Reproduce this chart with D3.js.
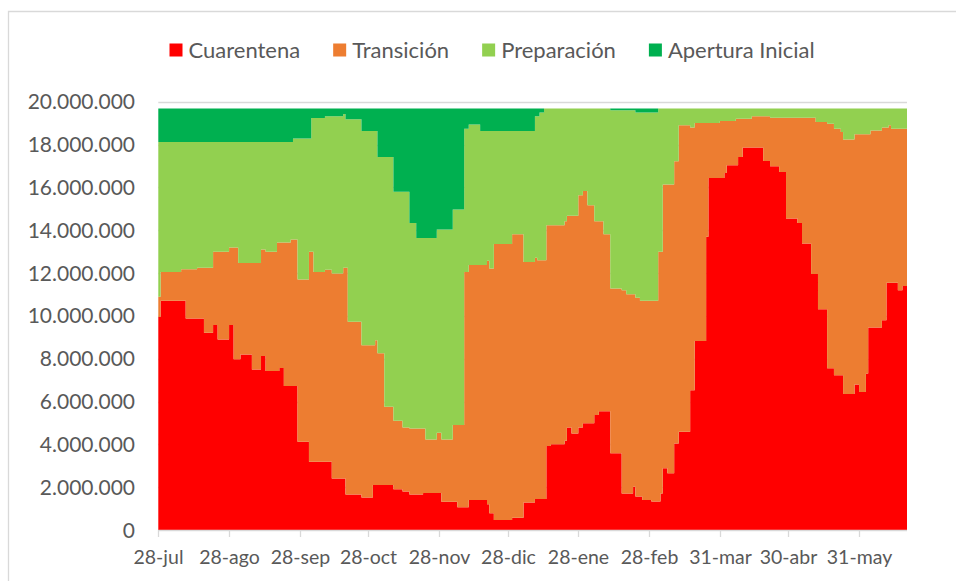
<!DOCTYPE html>
<html lang="es">
<head>
<meta charset="utf-8">
<title>Población por paso</title>
<script src="https://cdn.jsdelivr.net/npm/d3@7"></script>
<style>
    body { margin: 0; background: #fff; }
    svg text { font-family: Lato, "Open Sans", sans-serif; fill: #595959; }
</style>
</head>
<body>
<div id="chart"></div>
<script>
// Datos: población por paso (millones de habitantes)
const fechaInicio = "2020-07-28";

// días transcurridos desde fechaInicio en que cambia algún paso
const dias = [0, 1, 10, 12, 17, 20, 24, 26, 31, 33, 35, 36, 41, 45, 47, 52, 53, 55, 58, 59,
    61, 66, 67, 68, 73, 76, 81, 82, 83, 89, 94, 95, 96, 99, 103, 107, 110, 113, 116, 117,
    122, 124, 129, 131, 134, 136, 141, 144, 145, 147, 155, 160, 165, 166, 167, 169, 170, 172, 178, 179,
    181, 184, 186, 188, 191, 193, 195, 198, 203, 205, 208, 209, 211, 212, 216, 219, 220, 221, 223, 226,
    228, 233, 235, 240, 241, 246, 248, 249, 253, 254, 256, 260, 265, 268, 272, 275, 280, 282, 286, 288,
    289, 293, 296, 299, 300, 305, 307, 310, 311, 312, 317, 319, 320, 321, 324, 326, 328];

const cuarentena = [9.95, 10.7, 10.7, 9.88, 9.88, 9.21, 9.57, 8.9, 9.57, 7.97, 7.97, 8.2, 7.5, 8.13, 7.42, 7.42, 7.57, 6.72, 6.72, 6.72,
    4.12, 3.19, 3.19, 3.19, 3.19, 2.41, 2.41, 1.66, 1.66, 1.52, 2.1, 2.1, 2.1, 2.1, 1.9, 1.8, 1.66, 1.66, 1.73, 1.73,
    1.73, 1.32, 1.32, 1.06, 1.06, 1.4, 1.4, 1.2, 0.78, 0.47, 0.57, 1.29, 1.45, 1.45, 1.45, 1.45, 3.92, 4.01, 4.17, 4.79,
    4.51, 4.79, 4.98, 4.98, 5.37, 5.55, 5.55, 3.58, 1.71, 1.71, 2.02, 1.56, 1.56, 1.4, 1.33, 1.33, 1.71, 2.88, 2.65, 4.04,
    4.59, 6.53, 8.83, 13.69, 16.44, 16.44, 16.67, 17.03, 17.03, 17.42, 17.86, 17.86, 17.23, 16.98, 16.72, 14.55, 14.34, 13.38, 11.95, 11.95,
    10.31, 7.55, 7.23, 7.23, 6.35, 6.79, 6.44, 7.31, 9.46, 9.46, 9.8, 11.54, 11.54, 11.54, 11.2, 11.39, 11.32];

const transicion = [0.94, 1.35, 1.48, 2.30, 2.37, 3.04, 3.42, 4.09, 3.62, 5.22, 4.50, 4.27, 4.97, 4.97, 5.57, 6.01, 5.86, 6.71, 6.85, 6.85,
    7.58, 9.80, 9.80, 8.86, 8.96, 9.57, 9.84, 10.59, 8.06, 7.11, 6.53, 6.76, 6.15, 3.66, 3.20, 2.99, 3.08, 3.08, 3.01, 2.50,
    2.81, 2.91, 3.58, 3.84, 10.99, 10.97, 10.97, 11.37, 11.43, 12.88, 13.24, 11.23, 11.26, 11.15, 11.15, 11.15, 10.31, 10.22, 10.25, 9.88,
    10.16, 10.84, 10.85, 10.19, 9.05, 8.87, 8.26, 7.70, 9.49, 9.30, 8.99, 9.29, 9.14, 9.30, 9.37, 11.66, 11.28, 13.25, 13.48, 13.18,
    14.31, 12.26, 10.18, 5.32, 2.57, 2.66, 2.43, 2.07, 2.17, 1.78, 1.34, 1.46, 2.09, 2.27, 2.53, 4.70, 4.91, 5.87, 7.30, 7.10,
    8.74, 11.42, 11.51, 11.36, 11.88, 11.69, 12.04, 11.17, 9.02, 9.20, 8.99, 7.25, 7.36, 7.20, 7.54, 7.35, 7.42];

const preparacion = [7.23, 6.07, 5.94, 5.94, 5.87, 5.87, 5.13, 5.13, 4.93, 4.93, 5.65, 5.65, 5.65, 5.02, 5.13, 4.69, 4.69, 4.69, 4.55, 4.71,
    6.58, 5.29, 6.25, 7.19, 7.17, 7.34, 7.17, 6.93, 9.46, 10.00, 10.00, 9.77, 9.17, 11.66, 10.69, 11.00, 9.60, 8.90, 8.90, 9.41,
    9.49, 9.80, 10.07, 10.07, 6.69, 6.56, 6.26, 6.06, 6.42, 5.28, 4.82, 6.11, 6.61, 6.72, 6.90, 7.08, 5.45, 5.45, 5.26, 5.01,
    5.01, 4.05, 3.85, 4.51, 5.26, 5.26, 5.87, 8.32, 8.40, 8.59, 8.59, 8.65, 8.80, 8.80, 8.80, 6.69, 6.69, 3.55, 3.55, 2.46,
    0.78, 0.89, 0.67, 0.67, 0.67, 0.58, 0.58, 0.58, 0.48, 0.48, 0.48, 0.36, 0.36, 0.43, 0.43, 0.43, 0.43, 0.43, 0.43, 0.63,
    0.63, 0.71, 0.94, 1.09, 1.45, 1.20, 1.20, 1.20, 1.20, 1.02, 0.89, 0.89, 0.78, 0.94, 0.94, 0.94, 0.94];

const aperturaInicial = [1.56, 1.56, 1.56, 1.56, 1.56, 1.56, 1.56, 1.56, 1.56, 1.56, 1.56, 1.56, 1.56, 1.56, 1.56, 1.56, 1.56, 1.56, 1.56, 1.40,
    1.40, 1.40, 0.44, 0.44, 0.36, 0.36, 0.26, 0.50, 0.50, 1.05, 1.05, 1.05, 2.26, 2.26, 3.89, 3.89, 5.34, 6.04, 6.04, 6.04,
    5.65, 5.65, 4.71, 4.71, 0.94, 0.75, 1.05, 1.05, 1.05, 1.05, 1.05, 1.05, 0.36, 0.36, 0.18, 0, 0, 0, 0, 0,
    0, 0, 0, 0, 0, 0, 0, 0.08, 0.08, 0.08, 0.08, 0.18, 0.18, 0.18, 0.18, 0, 0, 0, 0, 0,
    0, 0, 0, 0, 0, 0, 0, 0, 0, 0, 0, 0, 0, 0, 0, 0, 0, 0, 0, 0,
    0, 0, 0, 0, 0, 0, 0, 0, 0, 0, 0, 0, 0, 0, 0, 0, 0];

const pasos = ["Cuarentena", "Transición", "Preparación", "Apertura Inicial"];
const colores = ["#FF0000", "#ED7D31", "#92D050", "#00B050"];

const fechasTicks = ["2020-07-28", "2020-08-28", "2020-09-28", "2020-10-28", "2020-11-28", "2020-12-28",
    "2021-01-28", "2021-02-28", "2021-03-31", "2021-04-30", "2021-05-31"];
const etiquetasTicks = ["28-jul", "28-ago", "28-sep", "28-oct", "28-nov", "28-dic",
    "28-ene", "28-feb", "31-mar", "30-abr", "31-may"];

(function() {
    // Configuración
    const width = 956;
    const height = 581;
    const plot = { left: 158.3, right: 907, top: 101.7, bottom: 530 };
    const colorLinea = "#D9D9D9";

    const parseFecha = d3.timeParse("%Y-%m-%d");
    const inicio = parseFecha(fechaInicio);

    // Tabla para d3.stack
    const claves = ["cuarentena", "transicion", "preparacion", "apertura"];
    const tabla = dias.map((d, i) => ({
        fecha: d3.timeDay.offset(inicio, d),
        cuarentena: cuarentena[i] * 1e6,
        transicion: transicion[i] * 1e6,
        preparacion: preparacion[i] * 1e6,
        apertura: aperturaInicial[i] * 1e6
    }));

    const series = d3.stack().keys(claves)(tabla);

    // Escalas
    const x = d3.scaleTime()
        .domain([inicio, d3.timeDay.offset(inicio, d3.max(dias))])
        .range([plot.left, plot.right]);

    const y = d3.scaleLinear()
        .domain([0, 20e6])
        .range([plot.bottom, plot.top]);

    const locale = d3.formatLocale({ decimal: ",", thousands: ".", grouping: [3], currency: ["$", ""] });
    const formatNumero = locale.format(",");

    const svg = d3.select("#chart")
        .append("svg")
        .attr("width", width)
        .attr("height", height);

    // Borde del gráfico
    svg.append("path")
        .attr("d", `M8.5,${height + 5}V11.5H${width + 5}`)
        .attr("fill", "none")
        .attr("stroke", colorLinea)
        .attr("stroke-width", 1.3);

    // Líneas de división
    const yTicks = d3.range(0, 20e6 + 1, 2e6);
    svg.append("g")
        .selectAll("line")
        .data(yTicks.filter(d => d > 0))
        .join("line")
        .attr("x1", plot.left)
        .attr("x2", plot.right)
        .attr("y1", d => Math.round(y(d)) + 0.5)
        .attr("y2", d => Math.round(y(d)) + 0.5)
        .attr("stroke", colorLinea)
        .attr("stroke-width", 1.3);

    // Áreas apiladas
    const area = d3.area()
        .curve(d3.curveStepAfter)
        .x(d => x(d.data.fecha))
        .y0(d => y(d[0]))
        .y1(d => y(d[1]));

    svg.append("g")
        .selectAll("path")
        .data(series)
        .join("path")
        .attr("fill", (d, i) => colores[i])
        .attr("d", area);

    // Eje Y
    svg.append("g")
        .selectAll("text")
        .data(yTicks)
        .join("text")
        .attr("x", 135)
        .attr("y", d => y(d))
        .attr("dy", "0.36em")
        .attr("text-anchor", "end")
        .style("font-size", "21px")
        .text(d => formatNumero(d));

    // Eje X
    const ejeX = svg.append("g");
    ejeX.append("line")
        .attr("x1", plot.left)
        .attr("x2", plot.right)
        .attr("y1", plot.bottom + 0.5)
        .attr("y2", plot.bottom + 0.5)
        .attr("stroke", colorLinea)
        .attr("stroke-width", 1.3);

    const ticks = ejeX.selectAll("g.tick")
        .data(fechasTicks)
        .join("g")
        .attr("class", "tick")
        .attr("transform", d => `translate(${Math.round(x(parseFecha(d))) + 0.5},${plot.bottom})`);

    ticks.append("line")
        .attr("y1", 0)
        .attr("y2", 7)
        .attr("stroke", colorLinea)
        .attr("stroke-width", 1.3);

    ticks.append("text")
        .attr("y", 34)
        .attr("text-anchor", "middle")
        .style("font-size", "19.5px")
        .text((d, i) => etiquetasTicks[i]);

    // Leyenda
    const leyenda = svg.append("g").attr("transform", "translate(169.5,0)");
    let posX = 0;
    pasos.forEach((paso, i) => {
        const item = leyenda.append("g").attr("transform", `translate(${posX},0)`);
        item.append("rect")
            .attr("x", 0)
            .attr("y", 43.5)
            .attr("width", 13)
            .attr("height", 13)
            .attr("fill", colores[i]);
        const texto = item.append("text")
            .attr("x", 19)
            .attr("y", 57.5)
            .style("font-size", "22px")
            .text(paso);
        posX += 19 + texto.node().getComputedTextLength() + 33;
    });
})();
</script>
</body>
</html>
